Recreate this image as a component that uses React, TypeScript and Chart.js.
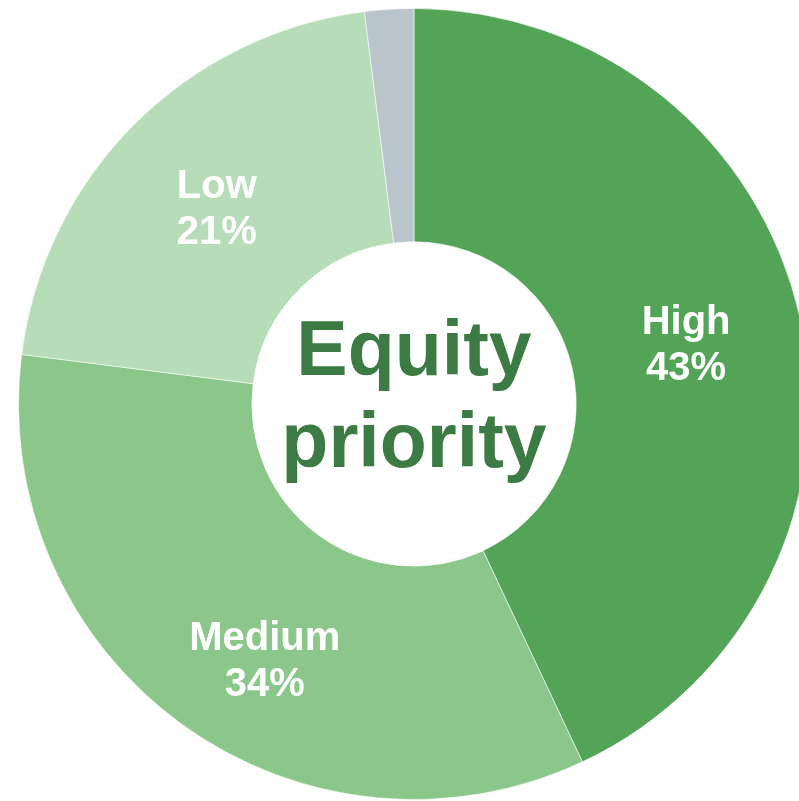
import React, { useEffect, useRef } from "react";
import { Chart, registerables } from "chart.js";

Chart.register(...registerables);

const categories = ["High", "Medium", "Low", "Other"];
const shares = [43, 34, 21, 2];
const sliceColors = ["#53A457", "#8BC68A", "#B7DCB8", "#BAC4CB"];
const showLabel = [true, true, true, false];
const centerTitle = ["Equity", "priority"];

const FONT = "'Liberation Sans', Arial, Helvetica, sans-serif";

const sliceLabels = {
  id: "sliceLabels",
  afterDatasetsDraw(chart: any, _args: any, opts: any) {
    const ctx = chart.ctx as CanvasRenderingContext2D;
    const meta = chart.getDatasetMeta(0);
    const adjust: number[][] = (opts && opts.adjust) || [];
    ctx.save();
    ctx.textAlign = "center";
    ctx.textBaseline = "alphabetic";
    ctx.fillStyle = "#FFFFFF";
    ctx.font = `bold 40px ${FONT}`;
    meta.data.forEach((arc: any, i: number) => {
      if (!showLabel[i]) return;
      const p = arc.getProps(
        ["x", "y", "startAngle", "endAngle", "innerRadius", "outerRadius"],
        true
      );
      const adj = adjust[i] || [0, 0];
      const mid = (p.startAngle + p.endAngle) / 2 + (adj[0] * Math.PI) / 180;
      const r = (p.innerRadius + p.outerRadius) / 2 + adj[1];
      const cx = p.x + Math.cos(mid) * r;
      const cy = p.y + Math.sin(mid) * r;
      ctx.fillText(categories[i], cx, cy - 8.7);
      ctx.fillText(shares[i] + "%", cx, cy + 37.3);
    });
    const a0 = meta.data[0] as any;
    ctx.fillStyle = "#3C7B43";
    ctx.font = `bold 77px ${FONT}`;
    ctx.fillText(centerTitle[0], a0.x, a0.y - 29);
    ctx.fillText(centerTitle[1], a0.x, a0.y + 63);
    ctx.restore();
  },
};

export default function App() {
  const canvasRef = useRef<HTMLCanvasElement | null>(null);

  useEffect(() => {
    document.body.style.margin = "0";
    document.body.style.overflow = "hidden";
    const canvas = canvasRef.current;
    if (!canvas) return;
    const chart = new Chart(canvas, {
      type: "doughnut",
      data: {
        labels: categories,
        datasets: [
          {
            data: shares,
            backgroundColor: sliceColors,
            borderColor: "rgba(255,255,255,0.55)",
            borderWidth: 1,
            hoverOffset: 0,
          },
        ],
      },
      options: {
        responsive: false,
        animation: false,
        cutout: "41%",
        rotation: 0,
        layout: { padding: 0 },
        plugins: {
          legend: { display: false },
          tooltip: { enabled: false },
          sliceLabels: { adjust: [[0, 0], [-5.6, 16], [0, 0], [0, 0]] },
        } as any,
      },
      plugins: [sliceLabels],
    });
    return () => chart.destroy();
  }, []);

  return (
    <div
      style={{
        position: "fixed",
        left: 0,
        top: 0,
        width: 799,
        height: 801,
        overflow: "hidden",
        background: "#FFFFFF",
      }}
    >
      <canvas
        ref={canvasRef}
        width={792}
        height={792}
        style={{ position: "absolute", left: 18, top: 8, width: 792, height: 792 }}
      />
    </div>
  );
}
